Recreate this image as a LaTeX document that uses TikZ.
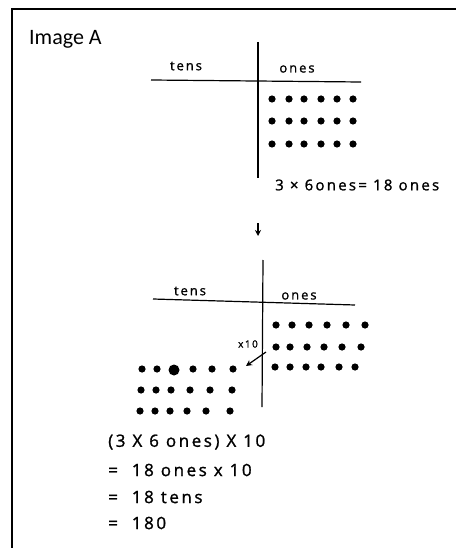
\documentclass[tikz,border=0pt]{standalone}
\usepackage{fontspec}
\setmainfont{Carlito}
\newfontfamily\handfont[LetterSpace=15, FakeBold=1.2]{Open Sans}
\usetikzlibrary{positioning, arrows.meta}

\tikzset{
  hand/.style={font=\handfont\fontsize{13}{15}\selectfont, inner sep=0pt},
  bighand/.style={font=\handfont\fontsize{17}{20}\selectfont, inner sep=0pt, anchor=west},
  axis/.style={line width=1.2pt},
  moveto/.style={-{Stealth[length=6pt, width=6pt]}, line width=1.2pt},
}

\begin{document}
\begin{tikzpicture}[x=1pt, y=-1pt]
    \useasboundingbox (0,0) rectangle (456,548);

    % frame (only top and left edge visible)
    \draw[line width=2.2pt] (12,548) -- (12,9) -- (456,9);
    \node[font=\fontsize{22}{26}\selectfont, anchor=base west, inner sep=0pt] (title) at (29,45) {Image A};

    % first place value chart
    \draw[axis] (258,42) -- (258,178);
    \draw[axis] (151,80) -- (361,82);
    \node[hand] (tensA) at (186,66) {tens};
    \node[hand] (onesA) at (297,69) {ones};

    % 3 rows of 6 ones
    \foreach \y in {99,121,144}
        \foreach \x in {272,289,304,321,337,353}
            \fill (\x,\y) circle (3.6pt);

    \node[hand, font=\handfont\fontsize{15}{17}\selectfont, anchor=west] (eqA) at (275,185) {3 × 6ones= 18 ones};

    % step down
    \coordinate (stepTop) at (258,223);
    \coordinate (stepBot) at (258,236);
    \draw[moveto] (stepTop) -- (stepBot);

    % second place value chart
    \draw[axis] (263,260) -- (262,407);
    \draw[axis] (153,299) -- (355,305);
    \node[hand] (tensB) at (190,291) {tens};
    \node[hand] (onesB) at (299,296) {ones};

    % ones block
    \foreach \y/\xs in {325/{276,292,309,327,346,365}, 347/{276,290,307,324,342,361}, 367/{275,290,306,321,339,355}}
        \foreach \x in \xs
            \fill (\x,\y) circle (3.6pt);

    % shifted to tens
    \foreach \y/\xs in {369/{142,157,193,212,233}, 390/{141,156,171,190,210,232}, 411/{140,155,170,187,206,230}}
        \foreach \x in \xs
            \fill (\x,\y) circle (3.6pt);
    \fill (174,370) circle (5.5pt);

    % times ten
    \node[hand, font=\handfont\fontsize{10}{12}\selectfont] (times) at (248,344) {x10};
    \coordinate (shiftFrom) at (266,352);
    \coordinate (shiftTo) at (246,366);
    \draw[moveto] (shiftFrom) -- (shiftTo);

    % working
    \node[bighand] (eq1) at (108,442) {(3 X 6 ones) X 10};
    \node[bighand] (eq2) at (108,470) {=\ \ 18 ones x 10};
    \node[bighand] (eq3) at (108,497) {=\ \ 18 tens};
    \node[bighand] (eq4) at (108,523) {=\ \ 180};

\end{tikzpicture}
\end{document}
